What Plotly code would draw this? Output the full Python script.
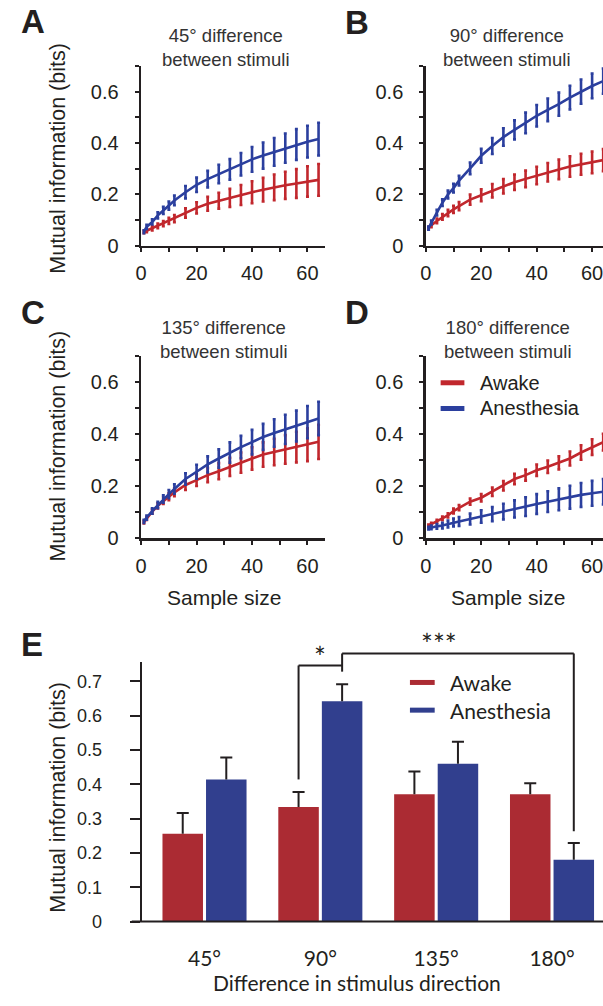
import plotly.graph_objects as go

# ---------------- data ----------------
sample_size = [1, 2, 4, 6, 8, 10, 12, 16, 20, 24, 28, 32, 36, 40, 44, 48, 52, 56, 60, 64]

awake_45 = [0.053, 0.058, 0.067, 0.077, 0.086, 0.096, 0.105, 0.127, 0.147, 0.163, 0.175, 0.186, 0.197, 0.208, 0.218, 0.227, 0.235, 0.242, 0.250, 0.256]
awake_45_err = [0.005, 0.006, 0.008, 0.009, 0.010, 0.012, 0.014, 0.018, 0.022, 0.027, 0.031, 0.035, 0.039, 0.043, 0.046, 0.050, 0.053, 0.056, 0.059, 0.062]
anest_45 = [0.054, 0.073, 0.092, 0.118, 0.137, 0.156, 0.176, 0.208, 0.237, 0.259, 0.279, 0.297, 0.317, 0.336, 0.351, 0.365, 0.380, 0.394, 0.405, 0.415]
anest_45_err = [0.006, 0.008, 0.010, 0.012, 0.014, 0.016, 0.019, 0.024, 0.028, 0.032, 0.036, 0.040, 0.044, 0.048, 0.051, 0.054, 0.057, 0.060, 0.062, 0.064]

awake_90 = [0.068, 0.079, 0.096, 0.112, 0.127, 0.141, 0.154, 0.179, 0.196, 0.214, 0.231, 0.247, 0.260, 0.273, 0.286, 0.297, 0.308, 0.317, 0.324, 0.333]
awake_90_err = [0.005, 0.007, 0.009, 0.011, 0.012, 0.014, 0.016, 0.020, 0.023, 0.026, 0.028, 0.030, 0.032, 0.034, 0.036, 0.038, 0.040, 0.041, 0.042, 0.043]
anest_90 = [0.068, 0.090, 0.128, 0.167, 0.199, 0.224, 0.253, 0.301, 0.350, 0.388, 0.423, 0.451, 0.478, 0.506, 0.529, 0.551, 0.577, 0.600, 0.622, 0.641]
anest_90_err = [0.006, 0.008, 0.011, 0.013, 0.015, 0.017, 0.019, 0.023, 0.027, 0.031, 0.034, 0.037, 0.040, 0.042, 0.044, 0.045, 0.046, 0.047, 0.048, 0.049]

awake_135 = [0.061, 0.076, 0.102, 0.124, 0.143, 0.159, 0.176, 0.204, 0.223, 0.242, 0.257, 0.274, 0.290, 0.306, 0.321, 0.331, 0.341, 0.350, 0.359, 0.370]
awake_135_err = [0.005, 0.006, 0.008, 0.010, 0.012, 0.013, 0.015, 0.019, 0.023, 0.027, 0.031, 0.035, 0.039, 0.043, 0.047, 0.051, 0.055, 0.059, 0.063, 0.066]
anest_135 = [0.064, 0.079, 0.104, 0.127, 0.150, 0.169, 0.189, 0.227, 0.255, 0.283, 0.306, 0.329, 0.350, 0.369, 0.389, 0.404, 0.418, 0.431, 0.446, 0.460]
anest_135_err = [0.006, 0.008, 0.010, 0.012, 0.014, 0.016, 0.018, 0.022, 0.027, 0.031, 0.035, 0.039, 0.043, 0.047, 0.050, 0.053, 0.056, 0.059, 0.062, 0.064]

awake_180 = [0.048, 0.054, 0.064, 0.076, 0.087, 0.104, 0.117, 0.140, 0.155, 0.178, 0.201, 0.227, 0.242, 0.261, 0.274, 0.289, 0.306, 0.329, 0.350, 0.369]
awake_180_err = [0.004, 0.005, 0.006, 0.007, 0.008, 0.009, 0.010, 0.012, 0.014, 0.016, 0.018, 0.020, 0.021, 0.022, 0.024, 0.025, 0.027, 0.028, 0.030, 0.032]
anest_180 = [0.038, 0.041, 0.045, 0.048, 0.054, 0.060, 0.064, 0.073, 0.083, 0.092, 0.102, 0.112, 0.121, 0.131, 0.140, 0.149, 0.157, 0.166, 0.172, 0.178]
anest_180_err = [0.005, 0.007, 0.009, 0.011, 0.013, 0.015, 0.017, 0.021, 0.024, 0.027, 0.030, 0.033, 0.036, 0.038, 0.040, 0.042, 0.044, 0.046, 0.048, 0.049]

directions = ["45°", "90°", "135°", "180°"]
bar_awake = [0.256, 0.334, 0.371, 0.371]
bar_awake_err = [0.060, 0.043, 0.066, 0.032]
bar_anest = [0.414, 0.642, 0.460, 0.180]
bar_anest_err = [0.064, 0.049, 0.064, 0.049]

panel_titles = ["45° difference<br>between stimuli", "90° difference<br>between stimuli",
                "135° difference<br>between stimuli", "180° difference<br>between stimuli"]

# ---------------- style ----------------
W, H = 603, 1006
RED_L, BLUE_L = "#c1272d", "#2b3f9e"
RED_B, BLUE_B = "#ab2b33", "#313f8e"
ARIAL = "Liberation Sans, Arial, sans-serif"
MYRIAD = "Lato, Liberation Sans, sans-serif"
INK = "#231f20"


def px(x):
    return x / W


def py(y):
    return 1 - y / H


fig = go.Figure()

panels = [
    (awake_45, awake_45_err, anest_45, anest_45_err),
    (awake_90, awake_90_err, anest_90, anest_90_err),
    (awake_135, awake_135_err, anest_135, anest_135_err),
    (awake_180, awake_180_err, anest_180, anest_180_err),
]

for i, (aw, awe, an, ane) in enumerate(panels):
    ax = "" if i == 0 else str(i + 1)
    for vals, errs, col, name in [(aw, awe, RED_L, "Awake"), (an, ane, BLUE_L, "Anesthesia")]:
        fig.add_trace(go.Scatter(
            x=sample_size, y=vals, mode="lines", name=name, showlegend=False,
            line=dict(color=col, width=2.6),
            error_y=dict(type="data", array=errs, visible=True, color=col, thickness=2.6, width=1.5),
            xaxis="x" + ax, yaxis="y" + ax,
        ))

# ---------------- bar chart (panel E) ----------------
BARGAP = 0.248
BARGROUPGAP = 0.07
cats = list(range(len(directions)))
fig.add_trace(go.Bar(
    x=cats, y=bar_awake, name="Awake", showlegend=False,
    marker=dict(color=RED_B, line=dict(width=0)),
    xaxis="x5", yaxis="y5",
))
fig.add_trace(go.Bar(
    x=cats, y=bar_anest, name="Anesthesia", showlegend=False,
    marker=dict(color=BLUE_B, line=dict(width=0)),
    xaxis="x5", yaxis="y5",
))

# one-sided error bars (stem + top cap only), positioned from the bar layout
OFF = (1 - BARGAP) / 4.0
CAP = 0.052
ex_, ey_ = [], []
for sign, vals, errs in [(-1, bar_awake, bar_awake_err), (1, bar_anest, bar_anest_err)]:
    for c, v, e in zip(cats, vals, errs):
        xc = c + sign * OFF
        ex_ += [xc, xc, None, xc - CAP, xc + CAP, None]
        ey_ += [v, v + e, None, v + e, v + e, None]
fig.add_trace(go.Scatter(x=ex_, y=ey_, mode="lines", showlegend=False, hoverinfo="skip",
                         line=dict(color=INK, width=2), xaxis="x5", yaxis="y5"))

# ---------------- axes ----------------
left_x = (136.5, 322.0)
right_x = (424.0, 603.0)
PXU = 2.8  # pixels per sample-size unit
top_y = (66.7, 248.3)
bot_y = (360.0, 544.0)

small_y = dict(
    range=[0, 0.7], tickvals=[0, 0.1, 0.2, 0.3, 0.4, 0.5, 0.6, 0.7],
    ticktext=["0", "", "0.2", "", "0.4", "", "0.6", ""],
    ticks="outside", ticklen=4, tickwidth=2, tickcolor=INK,
    showline=True, linecolor=INK, linewidth=2.5, showgrid=False, zeroline=False,
    tickfont=dict(family=ARIAL, size=20, color=INK), ticklabelstandoff=12,
    fixedrange=True,
)


def small_x(span):
    return dict(
        range=[0, (span[1] - span[0]) / PXU], tickvals=[0, 10, 20, 30, 40, 50, 60],
        ticktext=["0", "", "20", "", "40", "", "60"],
        ticks="outside", ticklen=4, tickwidth=2, tickcolor=INK,
        showline=True, linecolor=INK, linewidth=2.5, showgrid=False, zeroline=False,
        tickfont=dict(family=ARIAL, size=20, color=INK), ticklabelstandoff=4,
        ticklabeloverflow="allow",
        domain=[px(span[0]), px(span[1])], fixedrange=True,
    )


layout = dict(
    width=W, height=H, margin=dict(l=0, r=0, t=0, b=0),
    paper_bgcolor="white", plot_bgcolor="white",
    barmode="group", bargap=BARGAP, bargroupgap=BARGROUPGAP,
    showlegend=False,
)

spans = [(left_x, top_y), (right_x, top_y), (left_x, bot_y), (right_x, bot_y)]
for i, (sx, sy) in enumerate(spans):
    k = "" if i == 0 else str(i + 1)
    layout["xaxis" + k] = dict(small_x(sx), anchor="y" + k)
    layout["yaxis" + k] = dict(small_y, domain=[py(sy[1]), py(sy[0])], anchor="x" + k)

# panel E axes
E_X0, E_X1 = 137.0, 603.0
E_Y0, E_Y1 = 931.7, 669.0
E_UNIT = 117.0  # pixels per category
E_XMIN = -(200.5 - E_X0) / E_UNIT
E_XMAX = E_XMIN + (E_X1 - E_X0) / E_UNIT
E_PX01 = 34.7  # pixels per 0.1
E_YMAX = (E_Y0 - E_Y1) / E_PX01 * 0.1

layout["xaxis5"] = dict(
    range=[E_XMIN, E_XMAX], domain=[px(E_X0), px(E_X1)], anchor="y5",
    tickvals=cats, ticktext=directions,
    ticks="", showline=False, showgrid=False, zeroline=False,
    tickfont=dict(family=MYRIAD, size=21, color=INK), ticklabelstandoff=22,
    ticklabeloverflow="allow", fixedrange=True,
)
layout["yaxis5"] = dict(
    range=[0, E_YMAX], domain=[py(E_Y0), py(E_Y1)], anchor="x5",
    tickvals=[0, 0.1, 0.2, 0.3, 0.4, 0.5, 0.6, 0.7],
    ticktext=["0", "0.1", "0.2", "0.3", "0.4", "0.5", "0.6", "0.7"],
    ticks="outside", ticklen=10, tickwidth=2, tickcolor=INK,
    showline=True, linecolor=INK, linewidth=2, showgrid=False, zeroline=False,
    tickfont=dict(family=ARIAL, size=18, color=INK), ticklabelstandoff=24,
    fixedrange=True,
)

fig.update_layout(**layout)

# ---------------- annotations ----------------
ann = []


def text(x, y, t, size, family=ARIAL, bold=False, angle=0, xanchor="center", color=INK):
    ann.append(dict(
        x=px(x), y=py(y), xref="paper", yref="paper", text=("<b>%s</b>" % t) if bold else t,
        showarrow=False, xanchor=xanchor, yanchor="middle", textangle=angle,
        font=dict(family=family, size=size, color=color),
    ))


# panel letters
for letter, (lx, ly) in zip("ABCDE", [(27, 22), (355, 23), (27, 316), (355, 316), (26, 652)]):
    text(lx, ly, letter, 33, bold=True)

# panel titles
for t, (tx, ty) in zip(panel_titles, [(222, 48), (506, 48), (220, 343), (507, 343)]):
    text(tx, ty, t, 18.5, color="#333")

# axis titles
text(53, 160, "Mutual information (bits)", 21.5, angle=-90)
text(53, 451, "Mutual information (bits)", 21.5, angle=-90)
text(53, 806, "Mutual information (bits)", 21.5, angle=-90)
text(220, 604, "Sample size", 21)
text(507, 604, "Sample size", 21)
text(355, 993, "Difference in stimulus direction", 21, family=MYRIAD)

# legend in panel D
text(477, 387, "Awake", 20, xanchor="left")
text(477, 413, "Anesthesia", 20, xanchor="left")
# legend in panel E
text(446, 690, "Awake", 21, family=MYRIAD, xanchor="left")
text(446, 718, "Anesthesia", 21, family=MYRIAD, xanchor="left")

shapes = []


def pline(x0, y0, x1, y1, color, width):
    shapes.append(dict(type="line", xref="paper", yref="paper", x0=px(x0), y0=py(y0),
                       x1=px(x1), y1=py(y1), line=dict(color=color, width=width)))


pline(439, 387, 463, 387, RED_L, 5)
pline(439, 413, 463, 413, BLUE_L, 5)
pline(408, 690, 433, 690, RED_B, 5)
pline(408, 718, 433, 718, BLUE_B, 5)

# x-axis line of panel E (extends slightly left of the y-axis)
pline(127, E_Y0, 603, E_Y0, INK, 2)


# significance brackets in E (from data positions through the axis scale)
def ex(v):
    return (v - E_XMIN) / (E_XMAX - E_XMIN)


def ey(v):
    return v / E_YMAX


def dline(x0, y0, x1, y1):
    shapes.append(dict(type="line", xref="x5 domain", yref="y5 domain", x0=ex(x0), y0=ey(y0),
                       x1=ex(x1), y1=ey(y1), line=dict(color=INK, width=2)))


i90, i180 = 1, 3
y_star1 = 0.746
y_star3 = 0.781
dline(i90 - OFF, bar_anest[0], i90 - OFF, y_star1)
dline(i90 - OFF, y_star1, i90 + OFF, y_star1)
dline(i90 + OFF, y_star3, i90 + OFF, 0.728)
dline(i90 + OFF, y_star3, i180 + OFF, y_star3)
dline(i180 + OFF, y_star3, i180 + OFF, 0.263)

ann.append(dict(x=ex(i90), y=ey(0.770), xref="x5 domain", yref="y5 domain", text="*",
                showarrow=False, yanchor="middle", font=dict(family=MYRIAD, size=28, color=INK)))
ann.append(dict(x=ex(2.2), y=ey(0.81), xref="x5 domain", yref="y5 domain", text="***",
                showarrow=False, yanchor="middle", font=dict(family=MYRIAD, size=28, color=INK)))

fig.update_layout(annotations=ann, shapes=shapes)

fig.write_html(
    "out.html",
    config={"displayModeBar": False, "staticPlot": True},
    post_script="document.body.style.margin='0';document.body.style.overflow='hidden';",
)
